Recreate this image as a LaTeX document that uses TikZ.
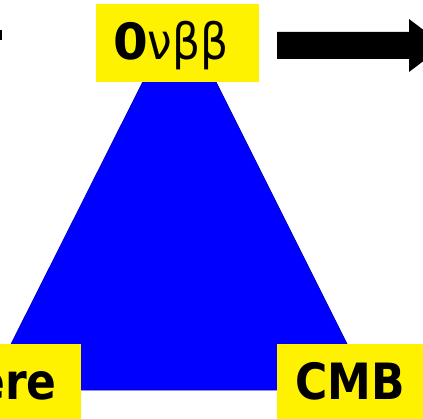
\documentclass[tikz,border=0pt]{standalone}
\usepackage{fontspec}
\newfontfamily\labfont[FakeStretch=0.88]{DejaVu Sans}
\newfontfamily\digitfont{DejaVu Sans}
\tikzset{
  ybox/.style={rectangle, fill=yellow, draw=none, inner sep=0pt},
  lab/.style={inner sep=0pt, font=\fontsize{50}{50}\selectfont}
}
\begin{document}
\begin{tikzpicture}[x=1pt,y=1pt]
\useasboundingbox (0,0) rectangle (423,418);
\fill[white] (0,0) rectangle (423,418);

% the triangle whose corners carry the three labels
\coordinate (apex) at (179.5,409);
\coordinate (bl) at (-12,28);
\coordinate (br) at (370,28);
\filldraw[fill=blue, draw=blue!75!black, line width=0.8pt] (apex) -- (bl) -- (br) -- cycle;

% labels on the corners
\node[ybox, minimum width=163, minimum height=78] (top) at (177.5,375) {};
\node[lab, anchor=base west] (toplabel) at (113,358)
  {\bfseries\digitfont 0\labfont\mdseries νββ};

\node[ybox, minimum width=91, minimum height=79] (left) at (35.5,34.5) {};
\node[lab, anchor=base east] (leftlabel) at (57,19) {\bfseries\labfont ere};

\node[ybox, minimum width=156, minimum height=79] (right) at (355,34.5) {};
\node[lab, anchor=base west] (rightlabel) at (295,19) {\bfseries\labfont CMB};

% block arrow pointing right
\fill[black] (277,359) -- (409,359) -- (409,346) -- (444,372.5)
  -- (409,399) -- (409,386) -- (277,386) -- cycle;

% small mark at the left edge
\fill[black] (0,378) rectangle (1.8,388);
\end{tikzpicture}
\end{document}
